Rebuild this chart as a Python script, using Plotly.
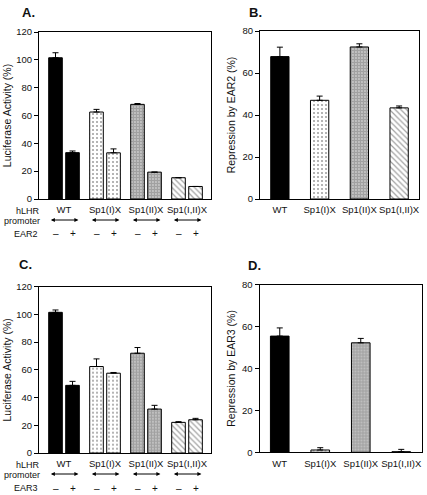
import plotly.graph_objects as go

# ---------------- data ----------------
constructs = ["WT", "Sp1(I)X", "Sp1(II)X", "Sp1(I,II)X"]
ear_signs = ["–", "+"]

# Panel A: luciferase activity without / with EAR2
a_minus = [101.5, 62.5, 68.0, 15.3]
a_minus_err = [3.6, 1.9, 0.6, 0.0]
a_plus = [33.3, 33.2, 19.3, 9.0]
a_plus_err = [1.2, 2.8, 0.0, 0.0]

# Panel B: repression by EAR2
b_vals = [67.8, 47.0, 72.4, 43.4]
b_err = [4.5, 2.0, 1.5, 0.9]

# Panel C: luciferase activity without / with EAR3
c_minus = [101.5, 62.4, 72.0, 22.1]
c_minus_err = [1.7, 5.5, 4.1, 0.5]
c_plus = [48.8, 57.6, 31.7, 24.0]
c_plus_err = [2.9, 0.5, 2.7, 1.0]

# Panel D: repression by EAR3
d_vals = [55.4, 1.1, 52.2, 0.3]
d_err = [3.9, 1.1, 2.1, 1.1]

y_ticks_act = [0, 20, 40, 60, 80, 100, 120]
y_ticks_rep = [0, 20, 40, 60, 80]

# ---------------- styles ----------------
FONT = "Liberation Sans, Arial, sans-serif"
TXT = "#111111"
base_colors = ["black", "white", "white", "white"]
pat_shapes = ["", ".", ".", "\\"]
pat_sizes = [6, 4, 3, 4]
pat_solid = [0.1, 0.22, 0.8, 0.3]

W, H = 427, 495


def px(x):
    return x / W


def py(y):
    return 1 - y / H


def marker():
    return dict(
        color=base_colors,
        line=dict(color="black", width=1),
        pattern=dict(shape=pat_shapes, size=pat_sizes, solidity=pat_solid,
                     fgcolor="black", fillmode="overlay"),
    )


def err(arr):
    return dict(type="data", array=arr, arrayminus=[0] * len(arr), symmetric=False,
                color="black", thickness=1, width=3)


fig = go.Figure()
# Panel A
fig.add_trace(go.Bar(x=constructs, y=a_minus, error_y=err(a_minus_err), marker=marker(),
                     xaxis="x", yaxis="y", showlegend=False, offsetgroup="m"))
fig.add_trace(go.Bar(x=constructs, y=a_plus, error_y=err(a_plus_err), marker=marker(),
                     xaxis="x", yaxis="y", showlegend=False, offsetgroup="p"))
# Panel B
fig.add_trace(go.Bar(x=constructs, y=b_vals, error_y=err(b_err), marker=marker(),
                     xaxis="x2", yaxis="y2", showlegend=False, width=0.46))
# Panel C
fig.add_trace(go.Bar(x=constructs, y=c_minus, error_y=err(c_minus_err), marker=marker(),
                     xaxis="x3", yaxis="y3", showlegend=False, offsetgroup="m"))
fig.add_trace(go.Bar(x=constructs, y=c_plus, error_y=err(c_plus_err), marker=marker(),
                     xaxis="x3", yaxis="y3", showlegend=False, offsetgroup="p"))
# Panel D
fig.add_trace(go.Bar(x=constructs, y=d_vals, error_y=err(d_err), marker=marker(),
                     xaxis="x4", yaxis="y4", showlegend=False, width=0.46))

tickfont = dict(family=FONT, size=9.5, color=TXT)
titlefont = dict(family=FONT, size=10.5, color=TXT)


def xax(domain, anchor, rng):
    return dict(domain=domain, anchor=anchor, type="category", range=rng,
                showline=True, linecolor="black", linewidth=1, mirror=True,
                ticks="", tickangle=0, automargin=False,
                tickfont=dict(family=FONT, size=9.5, color=TXT),
                showgrid=False, zeroline=False, ticklabelstandoff=2)


def yax(domain, anchor, rng, tickvals, title, standoff):
    return dict(domain=domain, anchor=anchor, range=rng, tickvals=tickvals,
                showline=True, linecolor="black", linewidth=1, mirror=True,
                ticks="outside", ticklen=4, tickcolor="black", tickwidth=1,
                tickfont=tickfont, showgrid=False, zeroline=False, automargin=False,
                title=dict(text=title, font=titlefont, standoff=standoff))


fig.update_layout(
    width=W, height=H,
    margin=dict(l=0, r=0, t=0, b=0),
    paper_bgcolor="white", plot_bgcolor="white",
    barmode="group", bargap=0.17, bargroupgap=0.2,
    xaxis=xax([px(39), px(211)], "y", [-0.61, 3.585]),
    yaxis=yax([py(199), py(32)], "x", [0, 120], y_ticks_act, "Luciferase Activity (%)", 2),
    xaxis2=xax([px(260), px(419)], "y2", [-0.5, 3.5]),
    yaxis2=yax([py(199), py(31)], "x2", [0, 80], y_ticks_rep, "Repression by EAR2 (%)", 4),
    xaxis3=xax([px(39), px(211)], "y3", [-0.61, 3.585]),
    yaxis3=yax([py(453), py(286.7)], "x3", [0, 120], y_ticks_act, "Luciferase Activity (%)", 2),
    xaxis4=xax([px(259.5), px(421.5)], "y4", [-0.5, 3.5]),
    yaxis4=yax([py(452.3), py(284.5)], "x4", [0, 80], y_ticks_rep, "Repression by EAR3 (%)", 4),
)

ann = []
# panel letters
for letter, x, y in [("A.", 20, 12), ("B.", 247, 12), ("C.", 17, 264), ("D.", 246, 265)]:
    ann.append(dict(text="<b>%s</b>" % letter, x=px(x), y=py(y), xref="paper", yref="paper",
                    xanchor="left", yanchor="middle", showarrow=False,
                    font=dict(family=FONT, size=13, color=TXT)))

small = dict(family=FONT, size=9, color=TXT)
for xa, bottom, ear in [("x", 199, "EAR2"), ("x3", 453, "EAR3")]:
    ann.append(dict(text="hLHR", x=px(41), y=py(bottom + 12), xref="paper", yref="paper",
                    xanchor="right", yanchor="middle", showarrow=False, font=small,
                    borderpad=0))
    ann.append(dict(text="promoter", x=px(41), y=py(bottom + 22), xref="paper", yref="paper",
                    xanchor="right", yanchor="middle", showarrow=False, font=small,
                    borderpad=0))
    ann.append(dict(text=ear, x=px(39), y=py(bottom + 35), xref="paper", yref="paper",
                    xanchor="right", yanchor="middle", showarrow=False, font=small,
                    borderpad=0))
    for i, c in enumerate(constructs):
        # double-headed arrow under each construct
        ann.append(dict(text="", x=i + 0.35, xref=xa, y=py(bottom + 21), yref="paper",
                        showarrow=True, ax=-29, ay=0, axref="pixel", ayref="pixel",
                        arrowhead=2, startarrowhead=2, arrowside="end+start",
                        arrowsize=0.8, arrowwidth=1, arrowcolor="black"))
        for sgn, off in zip(ear_signs, [-0.207, 0.207]):
            ann.append(dict(text=sgn, x=i + off, xref=xa, y=py(bottom + 35),
                            yref="paper", xanchor="center", yanchor="middle",
                            showarrow=False, font=dict(family=FONT, size=10, color=TXT)))

fig.update_layout(annotations=ann)
fig.write_html(
    "out.html",
    config={"displayModeBar": False},
    post_script="document.body.style.margin='0';document.body.style.overflow='hidden';"
                "document.documentElement.style.overflow='hidden';",
)
